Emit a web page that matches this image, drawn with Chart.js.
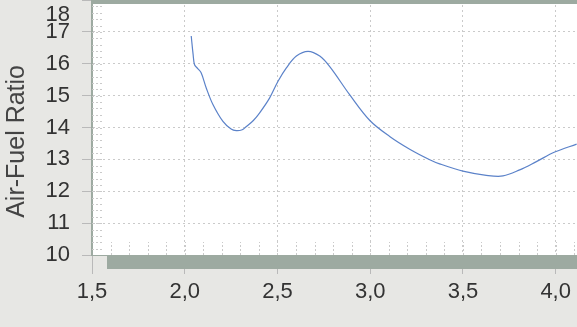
<!DOCTYPE html>
<html>
<head>
<meta charset="utf-8">
<script src="https://cdn.jsdelivr.net/npm/chart.js@4/dist/chart.umd.min.js"></script>
<style>
  html, body { margin: 0; padding: 0; background: #e7e7e4; }
  #wrap { width: 577px; height: 327px; }
</style>
</head>
<body>
<div id="wrap"><canvas id="afr-chart" width="577" height="327"></canvas></div>
<script>
// values (y = air-fuel ratio)
var xValues = [2.035, 2.045, 2.053, 2.07, 2.089, 2.116, 2.152, 2.206, 2.25, 2.278, 2.31, 2.332, 2.37, 2.404, 2.458, 2.503, 2.548, 2.602, 2.665, 2.728, 2.783, 2.889, 2.998, 3.105, 3.213, 3.321, 3.374, 3.50, 3.626, 3.716, 3.806, 3.896, 3.995, 4.113];
var afrValues = [16.87, 16.3, 15.97, 15.85, 15.71, 15.24, 14.72, 14.19, 13.95, 13.90, 13.93, 14.03, 14.22, 14.46, 14.93, 15.45, 15.87, 16.24, 16.39, 16.24, 15.90, 15.03, 14.22, 13.72, 13.32, 12.99, 12.86, 12.63, 12.50, 12.48, 12.67, 12.93, 13.23, 13.48];
var xTicks = [1.5, 2.0, 2.5, 3.0, 3.5, 4.0];
var yTicks = [10, 11, 12, 13, 14, 15, 16, 17, 18];
var yTitle = 'Air-Fuel Ratio';

var FONT = '"Liberation Sans", Arial, sans-serif';
var frameColor = '#9daaa1';
var gridColor = '#cacaca';

var points = xValues.map(function(x, i) { return { x: x, y: afrValues[i] }; });

// grey page, white plot area, the two grey frame bars and the minor ticks
var framePlugin = {
  id: 'frame',
  beforeDraw: function(chart) {
    var ctx = chart.ctx, a = chart.chartArea;
    ctx.save();
    ctx.fillStyle = '#e7e7e4';
    ctx.fillRect(0, 0, chart.width, chart.height);
    ctx.fillStyle = '#ffffff';
    ctx.fillRect(a.left, a.top, a.right - a.left, a.bottom - a.top);
    ctx.restore();
  },
  beforeDatasetsDraw: function(chart) {
    var ctx = chart.ctx, a = chart.chartArea;
    var xs = chart.scales.x, ys = chart.scales.y;
    ctx.save();
    ctx.strokeStyle = gridColor;
    ctx.lineWidth = 1;
    ctx.setLineDash([2, 2]);
    ctx.beginPath();
    // minor x ticks every 0.1 along the bottom
    for (var v = 1.6; v < 4.2; v += 0.1) {
      var px = Math.round(xs.getPixelForValue(v)) + 0.5;
      if (px > a.right) break;
      ctx.moveTo(px, a.bottom);
      ctx.lineTo(px, a.bottom - 13);
    }
    // minor y ticks every 0.2 along the left
    for (var w = 10.2; w < 18; w += 0.2) {
      var py = Math.round(ys.getPixelForValue(w)) + 0.5;
      ctx.moveTo(a.left, py);
      ctx.lineTo(a.left + 11, py);
    }
    ctx.stroke();
    ctx.restore();
  },
  afterDraw: function(chart) {
    var ctx = chart.ctx, a = chart.chartArea;
    ctx.save();
    ctx.fillStyle = frameColor;
    ctx.fillRect(a.left, 0, chart.width - a.left, 4);
    ctx.fillRect(a.left + 15, a.bottom, chart.width - a.left - 15, 14);
    // top tick label is pushed down in the original so it stays on the page
    ctx.fillStyle = '#333333';
    ctx.font = '22px ' + FONT;
    ctx.textAlign = 'right';
    ctx.textBaseline = 'middle';
    ctx.fillText('18', 70, 15);
    ctx.restore();
  }
};

var ctx = document.getElementById('afr-chart').getContext('2d');
var afrChart = new Chart(ctx, {
  type: 'scatter',
  data: {
    datasets: [{
      label: 'AFR',
      data: points,
      showLine: true,
      borderColor: '#5b82c9',
      borderWidth: 1.2,
      pointRadius: 0,
      tension: 0.35
    }]
  },
  options: {
    responsive: false,
    animation: false,
    layout: { padding: 0 },
    plugins: {
      legend: { display: false },
      tooltip: { enabled: false }
    },
    scales: {
      x: {
        type: 'linear',
        min: 1.5,
        max: 4.115,
        afterBuildTicks: function(scale) {
          scale.ticks = xTicks.map(function(v) { return { value: v }; });
        },
        afterFit: function(scale) {
          scale.height = 72;
          scale.paddingLeft = 0;
          scale.paddingRight = 0;
        },
        ticks: {
          color: '#333333',
          font: { family: FONT, size: 22 },
          padding: 5,
          maxRotation: 0,
          autoSkip: false,
          callback: function(v) { return v.toFixed(1).replace('.', ','); }
        },
        grid: { color: gridColor, tickLength: 19, tickColor: '#b9b9b9' },
        border: { display: true, color: frameColor, width: 1, dash: [2, 3] }
      },
      y: {
        min: 10,
        max: 18,
        afterBuildTicks: function(scale) {
          scale.ticks = yTicks.map(function(v) { return { value: v }; });
        },
        afterFit: function(scale) {
          scale.width = 92;
          scale.paddingTop = 0;
          scale.paddingBottom = 0;
        },
        ticks: {
          color: '#333333',
          font: { family: FONT, size: 22 },
          padding: 12,
          autoSkip: false,
          callback: function(v) { return v === 18 ? '' : String(v); }
        },
        grid: { color: gridColor, tickLength: 10, tickColor: '#b9b9b9' },
        border: { display: true, color: frameColor, width: 2, dash: [2, 3] },
        title: {
          display: true,
          text: yTitle + '    ',
          color: '#444444',
          font: { family: FONT, size: 25 },
          padding: { top: 2, bottom: 0 }
        }
      }
    }
  },
  plugins: [framePlugin]
});
</script>
</body>
</html>
